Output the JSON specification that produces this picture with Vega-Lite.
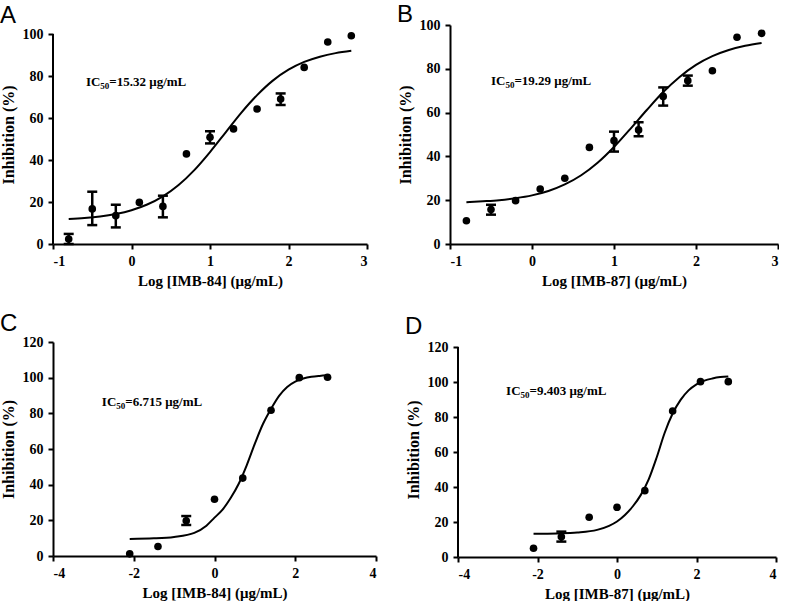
{
  "$schema": "https://vega.github.io/schema/vega-lite/v6.json",
  "background": "white",
  "padding": {"left": 0, "top": 3, "right": 0, "bottom": 0},
  "config": {
    "view": {"stroke": null},
    "axis": {
      "grid": false,
      "domainColor": "black",
      "domainWidth": 2,
      "tickColor": "black",
      "tickWidth": 2,
      "tickSize": 5,
      "labelOverlap": false,
      "labelFont": "Liberation Serif",
      "labelFontWeight": "bold",
      "labelFontSize": 14,
      "labelColor": "black",
      "labelExpr": "'' + datum.value",
      "titleFont": "Liberation Serif",
      "titleFontWeight": "bold",
      "titleColor": "black"
    },
    "axisX": {"labelPadding": 5, "titlePadding": 5, "titleFontSize": 15},
    "axisY": {"labelPadding": 5, "titlePadding": 6, "titleFontSize": 16},
    "title": {"font": "Liberation Sans", "fontSize": 24, "fontWeight": "normal", "color": "black", "anchor": "start", "frame": "bounds"},
    "text": {"font": "Liberation Serif", "fontWeight": "bold", "fontSize": 13, "align": "left", "baseline": "middle", "color": "black"},
    "circle": {"size": 58, "opacity": 1, "color": "black"}
  },
  "datasets": {
    "ptsA": [
      {"x": -0.8, "y": 2.4, "lo": 0, "hi": 4.8},
      {"x": -0.5, "y": 16.7, "lo": 9.0, "hi": 24.9},
      {"x": -0.2, "y": 13.5, "lo": 7.9, "hi": 18.7},
      {"x": 0.1, "y": 19.8},
      {"x": 0.4, "y": 17.9, "lo": 12.7, "hi": 23.0},
      {"x": 0.7, "y": 42.9},
      {"x": 1.0, "y": 50.8, "lo": 47.9, "hi": 53.7},
      {"x": 1.3, "y": 54.8},
      {"x": 1.6, "y": 64.3},
      {"x": 1.9, "y": 69.0, "lo": 66.2, "hi": 71.7},
      {"x": 2.2, "y": 84.1},
      {"x": 2.5, "y": 96.2},
      {"x": 2.8, "y": 99.2}
    ],
    "curveA": [
      {"x": -0.8, "y": 11.85}, {"x": -0.6, "y": 12.34}, {"x": -0.4, "y": 13.1}, {"x": -0.2, "y": 14.3},
      {"x": 0.0, "y": 16.1}, {"x": 0.2, "y": 18.8}, {"x": 0.4, "y": 22.7}, {"x": 0.6, "y": 28.1},
      {"x": 0.8, "y": 35.2}, {"x": 1.0, "y": 43.8}, {"x": 1.2, "y": 53.2}, {"x": 1.4, "y": 62.6},
      {"x": 1.6, "y": 70.9}, {"x": 1.8, "y": 77.8}, {"x": 2.0, "y": 83.0}, {"x": 2.2, "y": 86.7},
      {"x": 2.4, "y": 89.2}, {"x": 2.6, "y": 90.9}, {"x": 2.8, "y": 92.0}
    ],
    "ptsB": [
      {"x": -0.8, "y": 10.6},
      {"x": -0.5, "y": 15.7, "lo": 13.4, "hi": 17.9},
      {"x": -0.2, "y": 19.8},
      {"x": 0.1, "y": 25.1},
      {"x": 0.4, "y": 30.0},
      {"x": 0.7, "y": 44.1},
      {"x": 1.0, "y": 47.2, "lo": 42.2, "hi": 51.3},
      {"x": 1.3, "y": 52.1, "lo": 49.2, "hi": 55.6},
      {"x": 1.6, "y": 67.4, "lo": 63.2, "hi": 71.5},
      {"x": 1.9, "y": 74.6, "lo": 72.3, "hi": 76.9},
      {"x": 2.2, "y": 79.1},
      {"x": 2.5, "y": 94.4},
      {"x": 2.8, "y": 96.2}
    ],
    "curveB": [
      {"x": -0.8, "y": 19.1}, {"x": -0.6, "y": 19.5}, {"x": -0.4, "y": 20.0}, {"x": -0.2, "y": 20.9},
      {"x": 0.0, "y": 22.2}, {"x": 0.2, "y": 24.2}, {"x": 0.4, "y": 27.2}, {"x": 0.6, "y": 31.4},
      {"x": 0.8, "y": 37.1}, {"x": 1.0, "y": 44.3}, {"x": 1.2, "y": 52.6}, {"x": 1.4, "y": 61.2},
      {"x": 1.6, "y": 69.4}, {"x": 1.8, "y": 76.3}, {"x": 2.0, "y": 81.8}, {"x": 2.2, "y": 85.8},
      {"x": 2.4, "y": 88.6}, {"x": 2.6, "y": 90.5}, {"x": 2.8, "y": 91.8}
    ],
    "ptsC": [
      {"x": -2.1, "y": 1.2},
      {"x": -1.4, "y": 5.3},
      {"x": -0.7, "y": 19.8, "lo": 17.4, "hi": 22.4},
      {"x": 0.0, "y": 31.8},
      {"x": 0.7, "y": 43.7},
      {"x": 1.4, "y": 81.7},
      {"x": 2.1, "y": 100.0},
      {"x": 2.8, "y": 100.2}
    ],
    "curveC": [
      {"x": -2.1, "y": 9.6}, {"x": -1.5, "y": 9.9}, {"x": -1.0, "y": 10.7}, {"x": -0.5, "y": 13.0},
      {"x": -0.2, "y": 17.0}, {"x": 0.0, "y": 21.5}, {"x": 0.2, "y": 26.0}, {"x": 0.4, "y": 32.5},
      {"x": 0.6, "y": 40.5}, {"x": 0.8, "y": 51.0}, {"x": 1.0, "y": 63.0}, {"x": 1.2, "y": 74.0},
      {"x": 1.4, "y": 82.5}, {"x": 1.6, "y": 89.8}, {"x": 1.8, "y": 94.8}, {"x": 2.0, "y": 97.8},
      {"x": 2.2, "y": 99.5}, {"x": 2.4, "y": 100.5}, {"x": 2.6, "y": 101.0}, {"x": 2.8, "y": 101.3}
    ],
    "ptsD": [
      {"x": -2.1, "y": 5.0},
      {"x": -1.4, "y": 11.6, "lo": 8.8, "hi": 14.5},
      {"x": -0.7, "y": 22.7},
      {"x": 0.0, "y": 28.4},
      {"x": 0.7, "y": 37.9},
      {"x": 1.4, "y": 83.4},
      {"x": 2.1, "y": 100.2},
      {"x": 2.8, "y": 100.2}
    ],
    "curveD": [
      {"x": -2.1, "y": 13.3}, {"x": -1.5, "y": 13.5}, {"x": -1.0, "y": 14.0}, {"x": -0.5, "y": 15.5},
      {"x": -0.2, "y": 17.8}, {"x": 0.0, "y": 20.3}, {"x": 0.2, "y": 24.0}, {"x": 0.4, "y": 29.0},
      {"x": 0.6, "y": 35.5}, {"x": 0.8, "y": 44.5}, {"x": 1.0, "y": 57.0}, {"x": 1.2, "y": 71.0},
      {"x": 1.4, "y": 82.0}, {"x": 1.6, "y": 89.8}, {"x": 1.8, "y": 95.2}, {"x": 2.0, "y": 98.7},
      {"x": 2.2, "y": 100.8}, {"x": 2.4, "y": 102.0}, {"x": 2.6, "y": 102.8}, {"x": 2.8, "y": 103.2}
    ],
    "axisLines": [
      {"panel": "A", "x": -1, "lo": 0, "hi": 100},
      {"panel": "D", "x": -4, "lo": 0, "hi": 120}
    ],
    "notes": [
      {"panel": "A", "x": -0.58, "y": 77, "ic": "IC", "sub": "50", "rest": "=15.32 μg/mL"},
      {"panel": "B", "x": -0.5, "y": 74.4, "ic": "IC", "sub": "50", "rest": "=19.29 μg/mL"},
      {"panel": "C", "x": -2.79, "y": 86.4, "ic": "IC", "sub": "50", "rest": "=6.715 μg/mL"},
      {"panel": "D", "x": -2.79, "y": 94.9, "ic": "IC", "sub": "50", "rest": "=9.403 μg/mL"}
    ]
  },
  "spacing": 24,
  "vconcat": [
    {
      "concat": [
        {
          "width": 314, "height": 219,
          "title": {"text": "A", "offset": -3},
          "layer": [
            {"data": {"name": "curveA"}, "mark": {"type": "line", "color": "black", "strokeWidth": 2, "interpolate": "monotone"},
             "encoding": {
               "x": {"field": "x", "type": "quantitative", "scale": {"domain": [-1, 3], "nice": false, "zero": false}, "axis": {"values": [-1, 0, 1, 2, 3], "tickCount": 5, "labelOverlap": false, "title": "Log [IMB-84] (μg/mL)"}},
               "y": {"field": "y", "type": "quantitative", "scale": {"domain": [0, 104.29], "nice": false}, "axis": {"values": [0, 20, 40, 60, 80, 100], "tickCount": 6, "labelOverlap": false, "title": "Inhibition (%)", "domain": false}}}},
            {"data": {"name": "axisLines"}, "transform": [{"filter": "datum.panel === 'A'"}], "mark": {"type": "rule", "color": "black", "strokeWidth": 2},
             "encoding": {"x": {"field": "x", "type": "quantitative"}, "y": {"field": "lo", "type": "quantitative"}, "y2": {"field": "hi"}}},
            {"data": {"name": "ptsA"}, "transform": [{"filter": "isValid(datum.lo)"}], "mark": {"type": "rule", "color": "black", "strokeWidth": 2.5},
             "encoding": {"x": {"field": "x", "type": "quantitative"}, "y": {"field": "lo", "type": "quantitative"}, "y2": {"field": "hi"}}},
            {"data": {"name": "ptsA"}, "transform": [{"filter": "isValid(datum.lo)"}], "mark": {"type": "tick", "orient": "horizontal", "color": "black", "size": 10, "thickness": 2.5, "opacity": 1},
             "encoding": {"x": {"field": "x", "type": "quantitative"}, "y": {"field": "lo", "type": "quantitative"}}},
            {"data": {"name": "ptsA"}, "transform": [{"filter": "isValid(datum.hi)"}], "mark": {"type": "tick", "orient": "horizontal", "color": "black", "size": 10, "thickness": 2.5, "opacity": 1},
             "encoding": {"x": {"field": "x", "type": "quantitative"}, "y": {"field": "hi", "type": "quantitative"}}},
            {"data": {"name": "ptsA"}, "mark": {"type": "circle"},
             "encoding": {"x": {"field": "x", "type": "quantitative"}, "y": {"field": "y", "type": "quantitative"}}},
            {"data": {"name": "notes"}, "transform": [{"filter": "datum.panel === 'A'"}], "mark": {"type": "text"},
             "encoding": {"x": {"field": "x", "type": "quantitative"}, "y": {"field": "y", "type": "quantitative"}, "text": {"field": "ic"}}},
            {"data": {"name": "notes"}, "transform": [{"filter": "datum.panel === 'A'"}], "mark": {"type": "text", "fontSize": 9, "dx": 14.4, "dy": 4},
             "encoding": {"x": {"field": "x", "type": "quantitative"}, "y": {"field": "y", "type": "quantitative"}, "text": {"field": "sub"}}},
            {"data": {"name": "notes"}, "transform": [{"filter": "datum.panel === 'A'"}], "mark": {"type": "text", "dx": 23.4},
             "encoding": {"x": {"field": "x", "type": "quantitative"}, "y": {"field": "y", "type": "quantitative"}, "text": {"field": "rest"}}}
          ]
        },
        {
          "width": 328, "height": 219,
          "title": {"text": "B", "offset": -9},
          "layer": [
            {"data": {"name": "curveB"}, "mark": {"type": "line", "color": "black", "strokeWidth": 2, "interpolate": "monotone"},
             "encoding": {
               "x": {"field": "x", "type": "quantitative", "scale": {"domain": [-1, 3], "nice": false, "zero": false}, "axis": {"values": [-1, 0, 1, 2, 3], "tickCount": 5, "labelOverlap": false, "title": "Log [IMB-87] (μg/mL)"}},
               "y": {"field": "y", "type": "quantitative", "scale": {"domain": [0, 100], "nice": false}, "axis": {"values": [0, 20, 40, 60, 80, 100], "tickCount": 6, "labelOverlap": false, "title": "Inhibition (%)"}}}},
            {"data": {"name": "ptsB"}, "transform": [{"filter": "isValid(datum.lo)"}], "mark": {"type": "rule", "color": "black", "strokeWidth": 2.5},
             "encoding": {"x": {"field": "x", "type": "quantitative"}, "y": {"field": "lo", "type": "quantitative"}, "y2": {"field": "hi"}}},
            {"data": {"name": "ptsB"}, "transform": [{"filter": "isValid(datum.lo)"}], "mark": {"type": "tick", "orient": "horizontal", "color": "black", "size": 10, "thickness": 2.5, "opacity": 1},
             "encoding": {"x": {"field": "x", "type": "quantitative"}, "y": {"field": "lo", "type": "quantitative"}}},
            {"data": {"name": "ptsB"}, "transform": [{"filter": "isValid(datum.hi)"}], "mark": {"type": "tick", "orient": "horizontal", "color": "black", "size": 10, "thickness": 2.5, "opacity": 1},
             "encoding": {"x": {"field": "x", "type": "quantitative"}, "y": {"field": "hi", "type": "quantitative"}}},
            {"data": {"name": "ptsB"}, "mark": {"type": "circle"},
             "encoding": {"x": {"field": "x", "type": "quantitative"}, "y": {"field": "y", "type": "quantitative"}}},
            {"data": {"name": "notes"}, "transform": [{"filter": "datum.panel === 'B'"}], "mark": {"type": "text"},
             "encoding": {"x": {"field": "x", "type": "quantitative"}, "y": {"field": "y", "type": "quantitative"}, "text": {"field": "ic"}}},
            {"data": {"name": "notes"}, "transform": [{"filter": "datum.panel === 'B'"}], "mark": {"type": "text", "fontSize": 9, "dx": 14.4, "dy": 4},
             "encoding": {"x": {"field": "x", "type": "quantitative"}, "y": {"field": "y", "type": "quantitative"}, "text": {"field": "sub"}}},
            {"data": {"name": "notes"}, "transform": [{"filter": "datum.panel === 'B'"}], "mark": {"type": "text", "dx": 23.4},
             "encoding": {"x": {"field": "x", "type": "quantitative"}, "y": {"field": "y", "type": "quantitative"}, "text": {"field": "rest"}}}
          ]
        }
      ],
      "columns": 2, "align": "none", "spacing": 29
    },
    {
      "concat": [
        {
          "width": 323, "height": 214,
          "title": {"text": "C", "offset": -1},
          "layer": [
            {"data": {"name": "curveC"}, "mark": {"type": "line", "color": "black", "strokeWidth": 2, "interpolate": "monotone"},
             "encoding": {
               "x": {"field": "x", "type": "quantitative", "scale": {"domain": [-4, 4], "nice": false, "zero": false}, "axis": {"values": [-4, -2, 0, 2, 4], "tickCount": 5, "labelOverlap": false, "title": "Log [IMB-84] (μg/mL)"}},
               "y": {"field": "y", "type": "quantitative", "scale": {"domain": [0, 120], "nice": false}, "axis": {"values": [0, 20, 40, 60, 80, 100, 120], "tickCount": 7, "labelOverlap": false, "title": "Inhibition (%)"}}}},
            {"data": {"name": "ptsC"}, "transform": [{"filter": "isValid(datum.lo)"}], "mark": {"type": "rule", "color": "black", "strokeWidth": 2.5},
             "encoding": {"x": {"field": "x", "type": "quantitative"}, "y": {"field": "lo", "type": "quantitative"}, "y2": {"field": "hi"}}},
            {"data": {"name": "ptsC"}, "transform": [{"filter": "isValid(datum.lo)"}], "mark": {"type": "tick", "orient": "horizontal", "color": "black", "size": 10, "thickness": 2.5, "opacity": 1},
             "encoding": {"x": {"field": "x", "type": "quantitative"}, "y": {"field": "lo", "type": "quantitative"}}},
            {"data": {"name": "ptsC"}, "transform": [{"filter": "isValid(datum.hi)"}], "mark": {"type": "tick", "orient": "horizontal", "color": "black", "size": 10, "thickness": 2.5, "opacity": 1},
             "encoding": {"x": {"field": "x", "type": "quantitative"}, "y": {"field": "hi", "type": "quantitative"}}},
            {"data": {"name": "ptsC"}, "mark": {"type": "circle"},
             "encoding": {"x": {"field": "x", "type": "quantitative"}, "y": {"field": "y", "type": "quantitative"}}},
            {"data": {"name": "notes"}, "transform": [{"filter": "datum.panel === 'C'"}], "mark": {"type": "text"},
             "encoding": {"x": {"field": "x", "type": "quantitative"}, "y": {"field": "y", "type": "quantitative"}, "text": {"field": "ic"}}},
            {"data": {"name": "notes"}, "transform": [{"filter": "datum.panel === 'C'"}], "mark": {"type": "text", "fontSize": 9, "dx": 14.4, "dy": 4},
             "encoding": {"x": {"field": "x", "type": "quantitative"}, "y": {"field": "y", "type": "quantitative"}, "text": {"field": "sub"}}},
            {"data": {"name": "notes"}, "transform": [{"filter": "datum.panel === 'C'"}], "mark": {"type": "text", "dx": 23.4},
             "encoding": {"x": {"field": "x", "type": "quantitative"}, "y": {"field": "y", "type": "quantitative"}, "text": {"field": "rest"}}}
          ]
        },
        {
          "width": 318, "height": 215,
          "title": {"text": "D", "offset": 1},
          "layer": [
            {"data": {"name": "curveD"}, "mark": {"type": "line", "color": "black", "strokeWidth": 2, "interpolate": "monotone"},
             "encoding": {
               "x": {"field": "x", "type": "quantitative", "scale": {"domain": [-4, 4], "nice": false, "zero": false}, "axis": {"values": [-4, -2, 0, 2, 4], "tickCount": 5, "labelOverlap": false, "title": "Log [IMB-87] (μg/mL)"}},
               "y": {"field": "y", "type": "quantitative", "scale": {"domain": [0, 122.86], "nice": false}, "axis": {"values": [0, 20, 40, 60, 80, 100, 120], "tickCount": 7, "labelOverlap": false, "title": "Inhibition (%)", "domain": false}}}},
            {"data": {"name": "axisLines"}, "transform": [{"filter": "datum.panel === 'D'"}], "mark": {"type": "rule", "color": "black", "strokeWidth": 2},
             "encoding": {"x": {"field": "x", "type": "quantitative"}, "y": {"field": "lo", "type": "quantitative"}, "y2": {"field": "hi"}}},
            {"data": {"name": "ptsD"}, "transform": [{"filter": "isValid(datum.lo)"}], "mark": {"type": "rule", "color": "black", "strokeWidth": 2.5},
             "encoding": {"x": {"field": "x", "type": "quantitative"}, "y": {"field": "lo", "type": "quantitative"}, "y2": {"field": "hi"}}},
            {"data": {"name": "ptsD"}, "transform": [{"filter": "isValid(datum.lo)"}], "mark": {"type": "tick", "orient": "horizontal", "color": "black", "size": 10, "thickness": 2.5, "opacity": 1},
             "encoding": {"x": {"field": "x", "type": "quantitative"}, "y": {"field": "lo", "type": "quantitative"}}},
            {"data": {"name": "ptsD"}, "transform": [{"filter": "isValid(datum.hi)"}], "mark": {"type": "tick", "orient": "horizontal", "color": "black", "size": 10, "thickness": 2.5, "opacity": 1},
             "encoding": {"x": {"field": "x", "type": "quantitative"}, "y": {"field": "hi", "type": "quantitative"}}},
            {"data": {"name": "ptsD"}, "mark": {"type": "circle"},
             "encoding": {"x": {"field": "x", "type": "quantitative"}, "y": {"field": "y", "type": "quantitative"}}},
            {"data": {"name": "notes"}, "transform": [{"filter": "datum.panel === 'D'"}], "mark": {"type": "text"},
             "encoding": {"x": {"field": "x", "type": "quantitative"}, "y": {"field": "y", "type": "quantitative"}, "text": {"field": "ic"}}},
            {"data": {"name": "notes"}, "transform": [{"filter": "datum.panel === 'D'"}], "mark": {"type": "text", "fontSize": 9, "dx": 14.4, "dy": 4},
             "encoding": {"x": {"field": "x", "type": "quantitative"}, "y": {"field": "y", "type": "quantitative"}, "text": {"field": "sub"}}},
            {"data": {"name": "notes"}, "transform": [{"filter": "datum.panel === 'D'"}], "mark": {"type": "text", "dx": 23.4},
             "encoding": {"x": {"field": "x", "type": "quantitative"}, "y": {"field": "y", "type": "quantitative"}, "text": {"field": "rest"}}}
          ]
        }
      ],
      "columns": 2, "align": "none", "spacing": 28
    }
  ]
}
